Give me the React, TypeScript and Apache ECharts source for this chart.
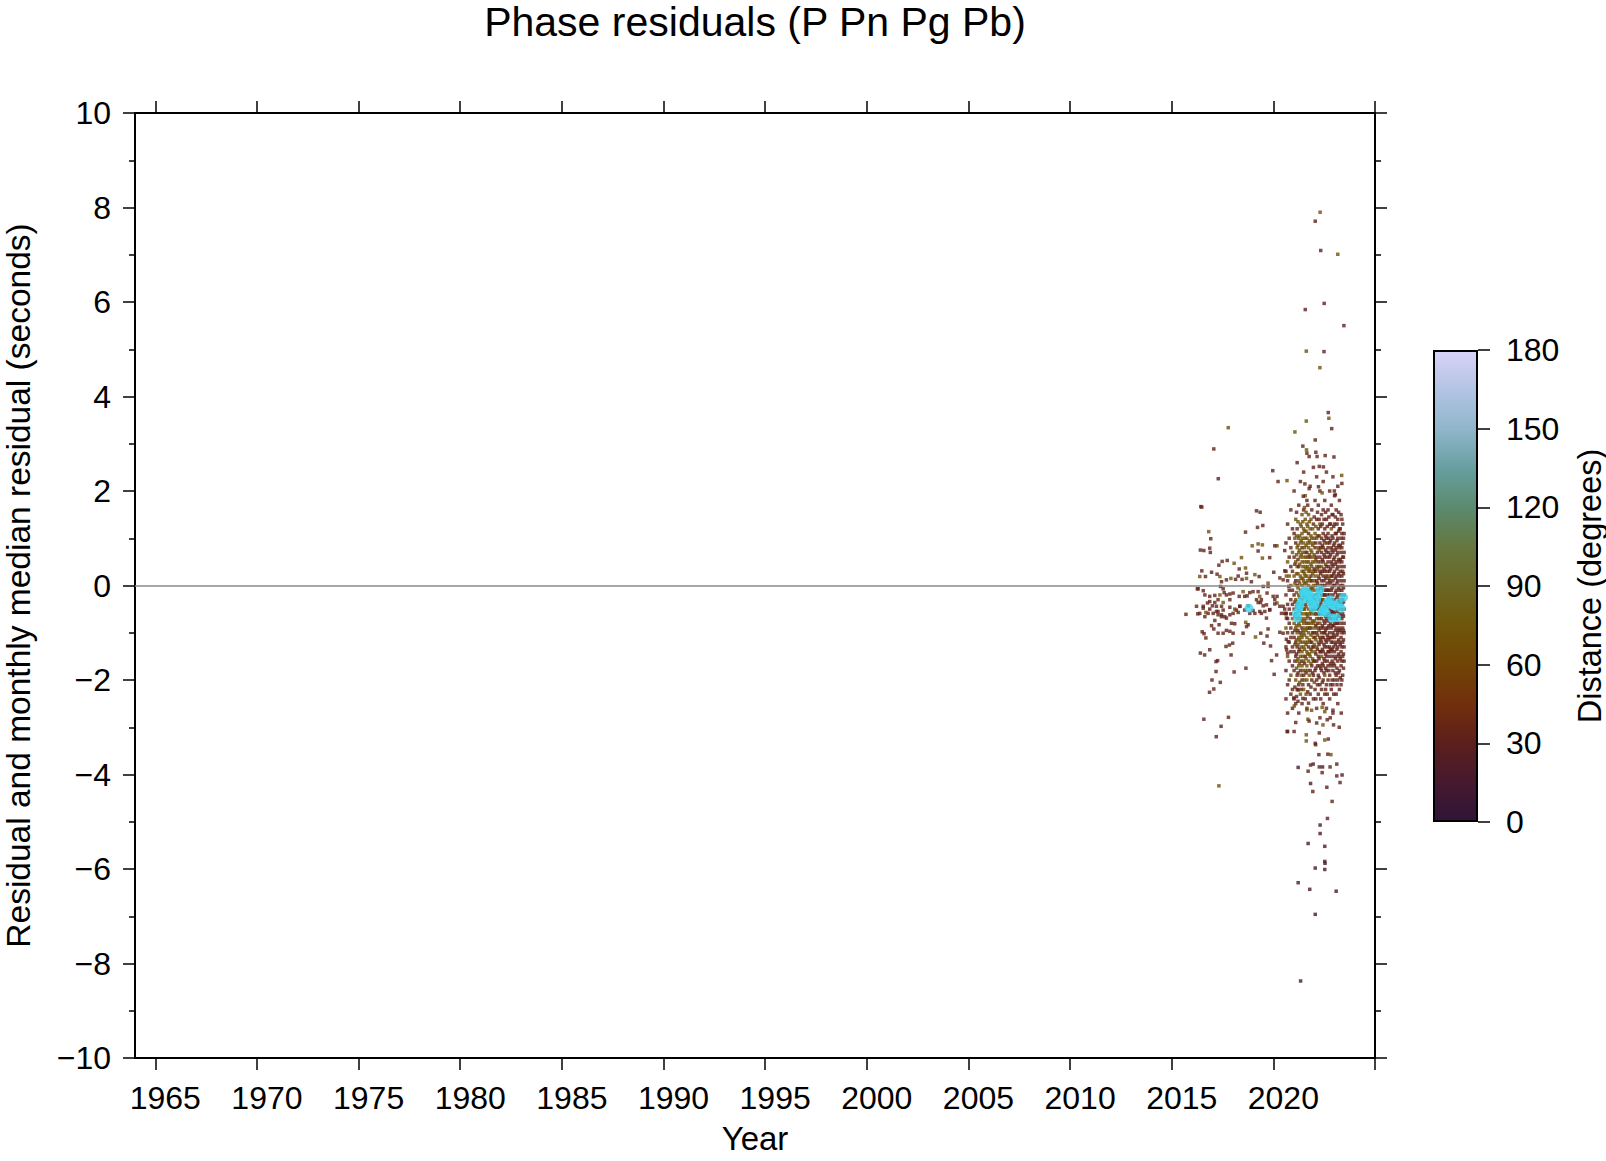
import React, { useEffect, useRef } from 'react';
import * as echarts from 'echarts';

const FONT = '"Liberation Sans", Arial, Helvetica, sans-serif';

const titleText = 'Phase residuals (P Pn Pg Pb)';
const xTickYears = [1965, 1970, 1975, 1980, 1985, 1990, 1995, 2000, 2005, 2010, 2015, 2020, 2025];
const xLabelYears = [1965, 1970, 1975, 1980, 1985, 1990, 1995, 2000, 2005, 2010, 2015, 2020];

// colour scale for distance (0 -> 180 degrees)
const distPalette = [
  '#2f1538', '#46192e', '#5c1f1d', '#722f0c', '#714406', '#6e560a', '#6b6625',
  '#65773f', '#5b8a6e', '#679fa0', '#8fb6c9', '#b2c3e4', '#d9d3f7',
];

// [year, residual (s), distance (deg)] — sparse points 2015.7–2020.8
const earlyPoints: number[][] = [
  [2015.70, -0.61, 34], [2016.26, -0.07, 33], [2016.48, 1.66, 34], [2016.43, 1.67, 33],
  [2019.17, 1.58, 33], [2019.35, 1.55, 34], [2019.48, 1.27, 33], [2019.22, 1.23, 35], [2018.63, 1.13, 33],
  [2016.82, 1.14, 70], [2016.92, 0.99, 33], [2016.41, 0.75, 34], [2016.58, 0.74, 33], [2016.87, 0.79, 35], [2016.90, 0.70, 33],
  [2018.96, 0.84, 70], [2019.25, 0.88, 69], [2019.46, 0.86, 70], [2019.25, 0.73, 33], [2019.46, 0.58, 68],
  [2020.18, 0.84, 70], [2020.07, 0.84, 33], [2019.82, 0.59, 34], [2020.56, 0.74, 33], [2018.43, 0.59, 70],
  [2018.07, 0.47, 70], [2017.73, 0.53, 33], [2017.48, 0.51, 34], [2017.32, 0.43, 33], [2017.23, 0.24, 35],
  [2016.96, 0.28, 33], [2016.48, 0.31, 34], [2016.38, 0.19, 70], [2016.66, 0.19, 33],
  [2018.32, 0.35, 33], [2018.63, 0.37, 70], [2018.68, 0.26, 33], [2018.68, 0.15, 70], [2018.46, 0.13, 34], [2018.27, 0.20, 33],
  [2017.91, 0.15, 70], [2018.14, 0.13, 33], [2017.69, 0.12, 35], [2017.37, 0.19, 70], [2017.45, 0.08, 33], [2017.40, -0.02, 34],
  [2018.92, 0.08, 33], [2019.09, 0.23, 70], [2019.30, 0.19, 33], [2019.50, -0.02, 34], [2019.74, 0.05, 70], [2019.74, -0.02, 33],
  [2020.02, 0.28, 33], [2020.32, 0.16, 34], [2020.56, 0.31, 33], [2020.64, 0.20, 70], [2020.76, -0.02, 33], [2020.48, 0.12, 35],
  [2016.30, -0.07, 33], [2016.55, -0.11, 34], [2016.63, -0.20, 33], [2016.87, -0.23, 35], [2017.12, -0.21, 33], [2017.37, -0.20, 70],
  [2017.53, -0.07, 33], [2017.58, -0.15, 34], [2017.69, -0.20, 33], [2017.86, -0.18, 33], [2018.02, -0.16, 35],
  [2016.87, -0.34, 33], [2016.76, -0.37, 34], [2017.12, -0.36, 33], [2017.53, -0.36, 70], [2017.28, -0.30, 33], [2017.86, -0.30, 34],
  [2017.20, -0.44, 33], [2017.45, -0.44, 35], [2017.53, -0.52, 33], [2017.28, -0.55, 34], [2017.04, -0.59, 33], [2016.79, -0.59, 33],
  [2016.63, -0.66, 34], [2016.38, -0.59, 33], [2016.22, -0.44, 35], [2016.55, -0.44, 33],
  [2018.32, -0.23, 33], [2018.51, -0.13, 70], [2018.59, -0.23, 33], [2018.71, -0.22, 34], [2018.84, -0.15, 33], [2019.00, -0.13, 35],
  [2019.25, -0.13, 33], [2019.33, -0.23, 70], [2019.41, -0.30, 33], [2019.17, -0.30, 34], [2019.37, -0.36, 33], [2019.50, -0.43, 33],
  [2019.66, -0.41, 35], [2019.69, -0.16, 33], [2019.99, -0.23, 34], [2020.07, -0.30, 33], [2020.18, -0.37, 70], [2020.32, -0.44, 33],
  [2020.56, -0.50, 34], [2020.64, -0.59, 33], [2020.40, -0.59, 35], [2020.18, -0.23, 33], [2019.82, -0.52, 33], [2019.58, -0.55, 34],
  [2019.33, -0.55, 33], [2019.09, -0.59, 33], [2018.84, -0.59, 34], [2018.59, -0.52, 33], [2018.35, -0.44, 35], [2018.18, -0.52, 33],
  [2018.02, -0.59, 34], [2017.86, -0.62, 33], [2017.69, -0.69, 33], [2017.45, -0.66, 34],
  [2016.28, -0.60, 33], [2016.55, -0.48, 34], [2016.68, -0.57, 70], [2016.87, -0.50, 33], [2017.00, -0.43, 33], [2017.20, -0.55, 34],
  [2017.45, -0.62, 33], [2017.61, -0.66, 34], [2017.28, -0.62, 33], [2017.12, -0.74, 35], [2017.33, -0.83, 33], [2016.96, -0.85, 34],
  [2017.07, -0.92, 33], [2017.28, -1.01, 33], [2017.53, -1.01, 34], [2017.69, -0.95, 33], [2017.86, -0.97, 35], [2018.02, -1.01, 33],
  [2017.94, -0.80, 34], [2018.10, -0.81, 33], [2018.35, -0.44, 33], [2018.10, -0.50, 70], [2017.86, -0.46, 33], [2018.27, -0.57, 34],
  [2018.76, -0.43, 33], [2019.00, -0.53, 33], [2019.25, -0.36, 34], [2019.41, -0.59, 33], [2019.66, -0.69, 35], [2019.82, -0.51, 33],
  [2020.07, -0.39, 34], [2020.48, -0.44, 33], [2020.56, -0.59, 33], [2020.64, -0.69, 34], [2020.32, -0.99, 33], [2020.48, -1.01, 35],
  [2020.64, -1.14, 33], [2020.73, -1.19, 34], [2016.50, -0.98, 33], [2016.59, -1.02, 33], [2016.68, -1.11, 34],
  [2018.51, -1.01, 33], [2018.64, -0.78, 70], [2018.76, -0.83, 33], [2018.68, -0.87, 34], [2019.38, -1.01, 33], [2019.69, -1.07, 33],
  [2019.74, -0.92, 34], [2019.12, -1.09, 70], [2019.53, -1.22, 33], [2019.86, -1.28, 34], [2020.65, -1.36, 33], [2020.70, -1.43, 33],
  [2016.41, -1.43, 33], [2016.62, -1.47, 34], [2016.87, -1.36, 33], [2017.18, -1.61, 33], [2017.26, -1.59, 34], [2017.92, -1.47, 33],
  [2017.67, -1.29, 33], [2017.84, -1.26, 35], [2018.00, -1.22, 33], [2019.91, -1.59, 34], [2020.16, -1.47, 33],
  [2017.18, -1.82, 33], [2018.07, -1.83, 34], [2018.65, -1.75, 33], [2016.98, -2.00, 33], [2017.39, -2.05, 34], [2016.86, -2.26, 33],
  [2020.04, -1.88, 33], [2017.07, -2.19, 34], [2016.58, -2.83, 33], [2017.79, -2.79, 33], [2017.43, -2.98, 34], [2017.19, -3.20, 33],
  [2017.32, -4.24, 70], [2020.70, -3.09, 33],
];

// isolated high and low residuals around the dense 2021–2023 cloud
const outlierPoints: number[][] = [
  [2022.30, 7.90, 70], [2022.06, 7.71, 33], [2022.33, 7.09, 33], [2023.17, 7.01, 70], [2022.50, 5.97, 33], [2021.57, 5.84, 33],
  [2023.47, 5.50, 33], [2021.62, 4.96, 70], [2022.49, 4.95, 33], [2022.29, 4.61, 70],
  [2022.70, 3.66, 33], [2022.73, 3.54, 70], [2022.87, 3.32, 33], [2021.62, 3.48, 70], [2021.06, 3.25, 70], [2017.78, 3.34, 70],
  [2017.07, 2.89, 33], [2017.29, 2.26, 33], [2022.06, 3.08, 33], [2021.45, 2.95, 33], [2021.63, 2.87, 70], [2021.76, 2.73, 33],
  [2022.09, 2.82, 33], [2022.15, 2.73, 33], [2022.55, 2.75, 33], [2022.98, 2.72, 33], [2022.26, 2.52, 33], [2022.46, 2.51, 33],
  [2019.97, 2.43, 33], [2020.23, 2.20, 33], [2020.67, 2.22, 70], [2023.36, 2.33, 70], [2023.37, 2.16, 33], [2021.55, 2.15, 33],
  [2021.76, 2.05, 33], [2022.22, 2.09, 33], [2022.40, 1.96, 70], [2023.00, 2.00, 33], [2023.05, 1.92, 33], [2021.47, 1.89, 33],
  [2021.22, -3.85, 18], [2021.71, -3.93, 33], [2021.83, -3.80, 33], [2021.96, -3.78, 20], [2022.26, -3.84, 33], [2022.42, -3.84, 20],
  [2022.40, -3.96, 33], [2022.79, -3.84, 33], [2023.12, -3.78, 33], [2023.12, -4.03, 33], [2023.38, -4.01, 20], [2023.28, -4.17, 33],
  [2021.83, -4.19, 20], [2021.94, -4.36, 33], [2022.63, -4.27, 33], [2022.89, -4.57, 33], [2022.66, -4.93, 33],
  [2020.68, -3.09, 33], [2021.02, -3.09, 33], [2021.62, -3.16, 70], [2021.62, -3.29, 70], [2022.26, -3.12, 33], [2022.06, -3.34, 33],
  [2022.08, -3.37, 33], [2022.70, -3.25, 33], [2022.53, -3.27, 70], [2022.24, -3.58, 33], [2022.68, -3.57, 33], [2022.83, -3.58, 70],
  [2021.00, -2.38, 33], [2021.03, -2.55, 70], [2021.45, -2.39, 33], [2021.73, -2.49, 33], [2021.65, -2.63, 70], [2021.88, -2.64, 70],
  [2022.40, -2.58, 70], [2022.53, -2.67, 70], [2022.65, -2.84, 33], [2022.80, -2.80, 33], [2022.93, -2.64, 33], [2023.34, -2.70, 33],
  [2023.24, -3.00, 33], [2022.96, -2.95, 33], [2021.70, -2.83, 70], [2021.76, -2.87, 33], [2022.13, -2.91, 33], [2022.44, -2.95, 70],
  [2021.22, -2.21, 33],
  [2022.30, -5.07, 18], [2022.30, -5.25, 18], [2021.71, -5.46, 18], [2022.53, -5.52, 18], [2022.53, -5.84, 18], [2022.54, -5.88, 18],
  [2022.06, -5.98, 18], [2022.53, -6.01, 18], [2021.22, -6.29, 18], [2021.79, -6.43, 18], [2023.09, -6.47, 18], [2022.06, -6.96, 18],
  [2021.34, -8.37, 18],
];

// dense cloud 2020.6–2023.5, one row per time slice: [year, res1, dist1, res2, dist2, ...]
const denseCloud: number[][] = [
  [2020.62, 0.9, 34, 0.3, 32, -0.2, 35, -0.6, 33, -0.9, 68, -1.3, 34, -1.8, 31, -2.4, 36],
  [2020.70, 1.3, 33, 0.5, 70, 0.1, 35, -0.4, 34, -0.7, 32, -1.0, 36, -1.5, 69, -2.1, 34, -2.7, 30],
  [2020.78, 1.0, 35, 0.6, 33, 0.2, 67, -0.1, 34, -0.5, 36, -0.8, 33, -1.2, 35, -1.6, 32, -2.0, 34],
  [2020.86, 1.6, 34, 0.8, 36, 0.4, 33, 0.0, 70, -0.3, 35, -0.6, 32, -0.9, 34, -1.1, 37, -1.4, 33, -1.9, 68, -2.3, 35],
  [2020.94, 1.2, 33, 0.7, 69, 0.3, 35, -0.1, 34, -0.4, 32, -0.7, 71, -1.0, 36, -1.3, 34, -1.7, 33, -2.2, 35, -2.6, 31],
  [2021.02, 2.0, 34, 1.1, 33, 0.6, 36, 0.2, 68, -0.2, 34, -0.5, 35, -0.8, 70, -1.1, 33, -1.4, 36, -1.8, 34, -2.4, 32],
  [2021.06, 1.0, 69, 0.45, 34, 0.05, 70, -0.35, 33, -0.65, 68, -0.95, 35, -1.25, 70, -1.6, 33, -2.15, 35],
  [2021.10, 1.4, 70, 0.9, 34, 0.5, 69, 0.1, 33, -0.3, 68, -0.6, 35, -0.9, 70, -1.2, 34, -1.5, 33, -2.0, 69, -2.5, 34, -2.9, 32],
  [2021.14, 1.55, 34, 1.05, 69, 0.65, 71, 0.25, 68, -0.15, 70, -0.45, 33, -0.85, 69, -1.15, 67, -1.45, 34, -1.75, 70, -2.35, 33],
  [2021.17, 2.6, 33, 1.2, 34, 0.8, 69, 0.4, 70, 0.0, 33, -0.4, 68, -0.7, 35, -1.0, 70, -1.3, 33, -1.6, 69, -1.9, 34, -2.2, 33],
  [2021.21, 1.35, 70, 0.85, 68, 0.55, 34, 0.25, 70, -0.05, 69, -0.35, 67, -0.65, 70, -0.95, 35, -1.25, 69, -1.55, 70, -1.85, 33, -2.45, 32],
  [2021.25, 1.7, 34, 1.0, 69, 0.7, 70, 0.4, 33, 0.1, 68, -0.2, 70, -0.5, 34, -0.8, 69, -1.1, 68, -1.4, 33, -1.7, 70, -2.1, 34, -2.7, 32],
  [2021.29, 1.05, 69, 0.75, 70, 0.45, 68, 0.05, 70, -0.25, 69, -0.55, 71, -0.85, 68, -1.15, 70, -1.35, 34, -1.65, 69, -2.05, 70],
  [2021.33, 2.2, 33, 1.3, 70, 0.9, 68, 0.6, 69, 0.2, 70, -0.1, 68, -0.4, 69, -0.7, 71, -1.0, 34, -1.2, 69, -1.5, 68, -1.8, 33, -2.3, 70],
  [2021.37, 1.25, 70, 0.95, 68, 0.65, 70, 0.15, 69, -0.15, 71, -0.45, 68, -0.75, 70, -1.05, 69, -1.3, 70, -1.6, 35, -1.9, 69, -2.2, 34],
  [2021.41, 1.5, 69, 1.1, 70, 0.8, 34, 0.5, 68, 0.3, 70, 0.0, 69, -0.3, 71, -0.6, 68, -0.9, 33, -1.1, 70, -1.4, 69, -1.7, 68, -2.0, 34, -2.5, 33],
  [2021.45, 1.35, 69, 1.0, 70, 0.7, 68, 0.4, 70, 0.15, 69, -0.1, 71, -0.4, 70, -0.7, 69, -0.95, 68, -1.2, 70, -1.5, 69, -1.8, 70, -2.1, 35],
  [2021.49, 2.4, 34, 1.6, 33, 1.2, 69, 0.9, 70, 0.6, 68, 0.3, 69, 0.1, 71, -0.2, 70, -0.5, 68, -0.8, 69, -1.0, 70, -1.3, 68, -1.6, 69, -1.9, 34, -2.2, 70],
  [2021.53, 1.65, 70, 1.15, 69, 0.8, 71, 0.5, 68, 0.25, 70, 0.05, 69, -0.25, 70, -0.5, 68, -0.75, 69, -1.05, 70, -1.35, 69, -1.65, 34, -2.0, 70],
  [2021.57, 1.9, 69, 1.4, 70, 1.0, 68, 0.7, 69, 0.4, 71, 0.2, 70, -0.1, 68, -0.4, 34, -0.6, 69, -0.9, 70, -1.2, 68, -1.5, 33, -1.8, 70, -2.4, 34],
  [2021.61, 1.55, 69, 1.15, 70, 0.85, 68, 0.6, 69, 0.35, 70, 0.05, 71, -0.2, 69, -0.45, 70, -0.7, 68, -0.95, 70, -1.25, 69, -1.55, 70, -1.85, 33, -2.3, 69],
  [2021.65, 2.8, 34, 1.8, 33, 1.3, 69, 1.0, 70, 0.7, 34, 0.5, 68, 0.2, 69, -0.1, 71, -0.3, 70, -0.6, 68, -0.8, 33, -1.1, 69, -1.4, 70, -1.7, 68, -2.0, 69, -2.6, 34],
  [2021.69, 1.7, 34, 1.25, 70, 0.9, 69, 0.6, 68, 0.4, 70, 0.1, 69, -0.1, 68, -0.35, 70, -0.65, 69, -0.9, 70, -1.2, 68, -1.45, 69, -1.8, 70, -2.25, 34],
  [2021.73, 1.5, 69, 1.1, 34, 0.8, 70, 0.5, 68, 0.3, 69, 0.0, 70, -0.2, 68, -0.5, 69, -0.8, 70, -1.0, 68, -1.3, 33, -1.6, 69, -2.1, 34],
  [2021.77, 1.35, 69, 0.95, 70, 0.65, 68, 0.35, 69, 0.15, 70, -0.1, 68, -0.35, 69, -0.6, 70, -0.9, 33, -1.15, 69, -1.45, 70, -1.9, 69],
  [2021.81, 2.1, 34, 1.2, 69, 0.9, 70, 0.6, 33, 0.3, 68, 0.1, 69, -0.2, 70, -0.4, 68, -0.7, 34, -0.9, 69, -1.2, 70, -1.5, 68, -1.8, 33, -2.3, 34],
  [2021.85, 1.4, 70, 1.05, 68, 0.75, 69, 0.45, 70, 0.2, 34, -0.05, 69, -0.3, 70, -0.55, 68, -0.8, 69, -1.05, 70, -1.35, 33, -1.65, 69, -2.15, 34],
  [2021.89, 1.6, 33, 1.0, 69, 0.7, 70, 0.4, 68, 0.1, 34, -0.1, 69, -0.4, 70, -0.6, 68, -0.9, 69, -1.2, 34, -1.4, 70, -1.7, 33, -2.0, 34],
  [2021.93, 1.2, 69, 0.85, 70, 0.5, 68, 0.25, 70, -0.05, 69, -0.25, 34, -0.5, 70, -0.75, 68, -1.0, 34, -1.3, 69, -1.55, 70, -1.85, 33],
  [2021.97, 2.5, 34, 1.3, 33, 0.9, 69, 0.6, 70, 0.3, 68, 0.0, 69, -0.3, 34, -0.5, 70, -0.8, 68, -1.1, 69, -1.3, 33, -1.6, 70, -1.9, 34, -2.4, 33],
  [2022.01, 1.45, 34, 1.0, 69, 0.65, 70, 0.35, 33, 0.1, 68, -0.2, 70, -0.45, 34, -0.75, 69, -1.0, 33, -1.25, 70, -1.6, 34, -2.05, 69],
  [2022.05, 1.8, 33, 1.1, 69, 0.8, 34, 0.5, 70, 0.2, 68, -0.1, 69, -0.3, 70, -0.6, 33, -0.9, 68, -1.1, 34, -1.4, 69, -1.8, 33, -2.2, 34],
  [2022.09, 1.25, 69, 0.9, 34, 0.55, 68, 0.3, 33, 0.0, 70, -0.35, 34, -0.6, 69, -0.85, 33, -1.15, 70, -1.45, 33, -1.75, 34, -2.4, 33],
  [2022.13, 2.3, 34, 1.4, 33, 1.0, 69, 0.6, 34, 0.4, 68, 0.1, 33, -0.2, 70, -0.5, 34, -0.7, 69, -1.0, 33, -1.3, 68, -1.6, 34, -2.0, 33, -2.6, 35],
  [2022.17, 1.55, 34, 1.05, 69, 0.7, 33, 0.35, 70, 0.05, 34, -0.25, 68, -0.5, 33, -0.8, 34, -1.05, 69, -1.35, 34, -1.7, 33, -2.1, 35],
  [2022.21, 1.7, 33, 1.2, 34, 0.8, 69, 0.5, 33, 0.2, 68, -0.1, 34, -0.4, 69, -0.6, 33, -0.9, 34, -1.2, 68, -1.5, 33, -1.9, 34, -2.3, 33],
  [2022.25, 1.4, 33, 1.05, 34, 0.75, 70, 0.4, 33, 0.15, 34, -0.15, 69, -0.45, 34, -0.7, 33, -0.95, 68, -1.25, 34, -1.55, 33, -1.95, 34],
  [2022.29, 2.0, 34, 1.3, 69, 0.9, 33, 0.6, 34, 0.3, 33, 0.0, 68, -0.3, 34, -0.5, 33, -0.8, 69, -1.1, 34, -1.4, 33, -1.7, 34, -2.1, 33, -2.8, 35],
  [2022.33, 1.25, 34, 0.8, 33, 0.5, 69, 0.25, 34, -0.05, 33, -0.35, 34, -0.6, 68, -0.9, 33, -1.15, 34, -1.4, 33, -1.75, 34, -2.4, 32],
  [2022.37, 1.5, 33, 1.0, 34, 0.7, 33, 0.4, 68, 0.1, 34, -0.2, 33, -0.4, 35, -0.7, 34, -1.0, 33, -1.2, 34, -1.5, 69, -1.8, 33, -2.2, 34],
  [2022.41, 1.3, 33, 0.85, 34, 0.55, 32, 0.3, 35, 0.0, 34, -0.3, 33, -0.55, 36, -0.85, 34, -1.1, 68, -1.35, 33, -1.65, 34, -2.05, 35],
  [2022.45, 2.2, 34, 1.6, 33, 1.1, 35, 0.8, 34, 0.5, 33, 0.2, 34, -0.1, 33, -0.3, 69, -0.6, 34, -0.9, 33, -1.1, 35, -1.4, 34, -1.7, 33, -2.0, 34, -2.5, 33],
  [2022.49, 1.4, 34, 0.95, 33, 0.65, 35, 0.35, 34, 0.1, 32, -0.2, 34, -0.45, 33, -0.75, 35, -1.0, 34, -1.25, 33, -1.55, 36, -1.85, 34],
  [2022.53, 1.8, 33, 1.2, 34, 0.9, 69, 0.6, 33, 0.3, 34, 0.0, 35, -0.2, 33, -0.5, 34, -0.8, 33, -1.0, 35, -1.3, 34, -1.6, 33, -1.9, 69, -2.3, 34],
  [2022.57, 1.55, 33, 1.05, 35, 0.75, 34, 0.45, 68, 0.15, 33, -0.1, 34, -0.35, 32, -0.65, 34, -0.95, 35, -1.15, 33, -1.45, 34, -1.75, 33, -2.2, 34],
  [2022.61, 2.4, 34, 1.4, 33, 1.0, 35, 0.7, 34, 0.4, 33, 0.2, 34, -0.1, 36, -0.4, 33, -0.7, 34, -0.9, 33, -1.2, 35, -1.5, 34, -1.8, 33, -2.1, 34, -2.6, 33],
  [2022.65, 1.25, 34, 0.9, 33, 0.6, 35, 0.3, 34, 0.05, 33, -0.2, 36, -0.45, 34, -0.75, 33, -1.05, 34, -1.3, 32, -1.6, 34, -2.3, 35],
  [2022.69, 1.6, 33, 1.1, 34, 0.8, 33, 0.5, 35, 0.2, 69, -0.1, 34, -0.3, 33, -0.6, 34, -0.9, 35, -1.1, 33, -1.4, 34, -1.7, 33, -2.0, 34],
  [2022.73, 1.45, 35, 1.0, 34, 0.7, 33, 0.4, 34, 0.15, 68, -0.1, 33, -0.4, 34, -0.65, 35, -0.85, 34, -1.15, 33, -1.4, 34, -1.8, 33],
  [2022.77, 2.0, 34, 1.3, 33, 0.9, 35, 0.6, 34, 0.3, 33, 0.1, 34, -0.2, 33, -0.5, 35, -0.7, 34, -1.0, 33, -1.3, 34, -1.5, 33, -1.9, 35, -2.4, 34],
  [2022.81, 1.3, 34, 0.95, 35, 0.65, 33, 0.35, 34, 0.05, 33, -0.3, 34, -0.55, 36, -0.8, 34, -1.1, 33, -1.35, 35, -1.65, 34, -2.1, 33],
  [2022.85, 1.7, 33, 1.2, 69, 0.8, 34, 0.5, 33, 0.2, 35, -0.1, 34, -0.4, 33, -0.6, 34, -0.9, 33, -1.2, 35, -1.4, 34, -1.7, 33, -2.2, 34],
  [2022.89, 1.5, 33, 1.05, 34, 0.75, 35, 0.45, 33, 0.2, 34, -0.05, 33, -0.3, 35, -0.55, 34, -0.85, 33, -1.1, 34, -1.35, 33, -1.6, 35, -2.0, 34],
  [2022.93, 2.3, 34, 1.5, 33, 1.0, 35, 0.7, 34, 0.4, 33, 0.1, 34, -0.2, 33, -0.4, 35, -0.7, 34, -1.0, 33, -1.2, 34, -1.5, 33, -1.8, 35, -2.1, 34, -2.7, 33],
  [2022.97, 1.25, 34, 0.85, 33, 0.55, 34, 0.25, 35, 0.0, 33, -0.3, 34, -0.55, 32, -0.85, 34, -1.05, 35, -1.3, 33, -1.65, 34, -2.3, 33],
  [2023.01, 1.9, 33, 1.3, 34, 0.9, 33, 0.6, 35, 0.3, 34, 0.0, 33, -0.3, 34, -0.6, 35, -0.8, 33, -1.1, 34, -1.4, 33, -1.7, 35, -2.0, 34],
  [2023.05, 1.45, 35, 1.1, 34, 0.75, 33, 0.45, 34, 0.15, 35, -0.15, 33, -0.45, 34, -0.7, 33, -0.95, 36, -1.25, 34, -1.55, 33, -1.85, 34],
  [2023.09, 1.6, 34, 1.1, 33, 0.8, 35, 0.5, 34, 0.2, 33, -0.1, 34, -0.4, 35, -0.7, 33, -0.9, 34, -1.2, 33, -1.5, 35, -1.9, 34, -2.3, 33],
  [2023.13, 1.3, 33, 0.95, 34, 0.65, 35, 0.35, 33, 0.05, 34, -0.25, 33, -0.55, 35, -0.8, 34, -1.05, 33, -1.35, 34, -1.75, 33, -2.1, 35],
  [2023.17, 2.1, 33, 1.4, 34, 1.0, 33, 0.7, 35, 0.4, 34, 0.1, 33, -0.2, 34, -0.5, 35, -0.8, 33, -1.0, 34, -1.3, 33, -1.6, 35, -2.0, 34, -2.5, 33],
  [2023.21, 1.55, 34, 1.15, 33, 0.85, 34, 0.55, 35, 0.25, 33, -0.05, 34, -0.35, 33, -0.65, 34, -0.95, 35, -1.15, 33, -1.45, 34, -1.85, 33],
  [2023.25, 1.8, 34, 1.2, 33, 0.8, 35, 0.5, 34, 0.2, 33, -0.1, 34, -0.3, 35, -0.6, 33, -0.9, 34, -1.2, 33, -1.5, 35, -1.8, 34, -2.2, 33],
  [2023.29, 1.2, 35, 0.85, 34, 0.55, 33, 0.3, 34, 0.0, 35, -0.35, 34, -0.65, 33, -0.95, 34, -1.25, 33, -1.55, 35, -1.95, 34],
  [2023.33, 1.5, 33, 1.0, 34, 0.7, 35, 0.4, 33, 0.1, 34, -0.2, 33, -0.5, 35, -0.8, 34, -1.1, 33, -1.4, 34, -1.7, 33, -2.1, 35],
  [2023.37, 1.4, 34, 1.1, 33, 0.8, 35, 0.5, 34, 0.2, 33, -0.1, 34, -0.4, 35, -0.7, 33, -1.0, 34, -1.3, 33, -1.6, 34, -2.0, 33],
  [2023.41, 1.3, 33, 0.9, 34, 0.6, 35, 0.3, 33, 0.0, 34, -0.3, 33, -0.6, 35, -0.9, 34, -1.2, 33, -1.5, 34, -1.9, 33],
  [2023.45, 1.0, 33, 0.6, 34, 0.25, 35, -0.05, 33, -0.35, 34, -0.65, 33, -0.95, 35, -1.15, 34, -1.45, 33, -1.75, 34],
  [2023.48, 1.1, 34, 0.7, 33, 0.4, 35, 0.1, 34, -0.2, 33, -0.5, 34, -0.8, 35, -1.0, 33, -1.3, 34, -1.6, 33],
];

// monthly median residuals [year, residual]
const monthlyMedian: number[][] = [
  [2018.80, -0.48],
  [2021.14, -0.58], [2021.19, -0.69], [2021.26, -0.48], [2021.30, -0.40], [2021.39, -0.32], [2021.47, -0.16],
  [2021.55, -0.12], [2021.63, -0.13], [2021.72, -0.22], [2021.80, -0.20], [2021.75, -0.30], [2021.88, -0.37],
  [2021.96, -0.48], [2022.05, -0.41], [2022.13, -0.30], [2022.21, -0.20], [2022.29, -0.09], [2022.38, -0.56],
  [2022.46, -0.51], [2022.55, -0.44], [2022.60, -0.58], [2022.68, -0.34], [2022.79, -0.30], [2022.88, -0.41],
  [2022.88, -0.69], [2023.04, -0.44], [2023.12, -0.68], [2023.20, -0.37], [2023.33, -0.48], [2023.45, -0.25],
];

function buildResiduals(): number[][] {
  const out: number[][] = [];
  earlyPoints.forEach((p) => out.push(p));
  denseCloud.forEach((row) => {
    for (let i = 1; i + 1 < row.length; i += 2) out.push([row[0], row[i], row[i + 1]]);
  });
  outlierPoints.forEach((p) => out.push(p));
  return out;
}

const minusFmt = (v: number) => (v < 0 ? '\u2212' + Math.abs(v) : String(v));

export default function App() {
  const ref = useRef<HTMLDivElement>(null);
  useEffect(() => {
    if (!ref.current) return;
    const chart = echarts.init(ref.current, null, { renderer: 'svg' });
    const black = '#000';
    const axisLineStyle = { color: black, width: 2 };
    const tickLineStyle = { color: black, width: 1.5 };
    const labelStyle = { fontSize: 32, color: black, fontFamily: FONT };
    const gradient = {
      type: 'linear', x: 0, y: 1, x2: 0, y2: 0,
      colorStops: distPalette.map((c, i) => ({ offset: i / (distPalette.length - 1), color: c })),
    };
    const option: any = {
      animation: false,
      backgroundColor: '#fff',
      textStyle: { fontFamily: FONT },
      graphic: [
        {
          type: 'text', x: 755, y: 22,
          style: {
            text: titleText, fontSize: 41, fill: black, fontFamily: FONT,
            textAlign: 'center', textVerticalAlign: 'middle',
          },
        },
      ],
      grid: [
        { left: 135, top: 113, width: 1240, height: 945, outerBoundsMode: 'none', containLabel: false },
        { left: 1433, top: 350, width: 45, height: 472, outerBoundsMode: 'none', containLabel: false },
      ],
      visualMap: {
        type: 'continuous', show: false, min: 0, max: 180, dimension: 2, seriesIndex: 0,
        inRange: { color: distPalette },
      },
      xAxis: [
        {
          gridIndex: 0, type: 'value', min: 1964, max: 2025, position: 'bottom',
          axisLine: { show: true, onZero: false, lineStyle: axisLineStyle },
          axisTick: { show: true, inside: false, length: 12, customValues: xTickYears, lineStyle: tickLineStyle },
          axisLabel: {
            show: true, customValues: xLabelYears, margin: 24, padding: [0, 0, 0, 20],
            formatter: (v: number) => String(v), ...labelStyle,
          },
          splitLine: { show: false },
          name: 'Year', nameLocation: 'middle', nameGap: 64,
          nameTextStyle: { ...labelStyle, fontSize: 33 },
        },
        {
          gridIndex: 0, type: 'value', min: 1964, max: 2025, position: 'top',
          axisLine: { show: true, onZero: false, lineStyle: axisLineStyle },
          axisTick: { show: true, inside: false, length: 12, customValues: xTickYears, lineStyle: tickLineStyle },
          axisLabel: { show: false },
          splitLine: { show: false },
        },
        { gridIndex: 1, type: 'category', data: ['dist'], show: false },
      ],
      yAxis: [
        {
          gridIndex: 0, type: 'value', min: -10, max: 10, interval: 2, position: 'left',
          axisLine: { show: true, onZero: false, lineStyle: axisLineStyle },
          axisTick: { show: true, inside: false, length: 12, lineStyle: tickLineStyle },
          minorTick: { show: true, splitNumber: 2, length: 6, lineStyle: tickLineStyle },
          axisLabel: { margin: 24, formatter: minusFmt, ...labelStyle },
          splitLine: { show: false }, minorSplitLine: { show: false },
          name: 'Residual and monthly median residual (seconds)', nameLocation: 'middle', nameGap: 100,
          nameRotate: 90, nameTextStyle: { ...labelStyle, fontSize: 33.5 },
        },
        {
          gridIndex: 0, type: 'value', min: -10, max: 10, interval: 2, position: 'right',
          axisLine: { show: true, onZero: false, lineStyle: axisLineStyle },
          axisTick: { show: true, inside: false, length: 12, lineStyle: tickLineStyle },
          minorTick: { show: true, splitNumber: 2, length: 6, lineStyle: tickLineStyle },
          axisLabel: { show: false },
          splitLine: { show: false }, minorSplitLine: { show: false },
        },
        {
          gridIndex: 1, type: 'value', min: 0, max: 180, interval: 30, position: 'right',
          axisLine: { show: false },
          axisTick: { show: true, inside: false, length: 12, lineStyle: tickLineStyle },
          axisLabel: { margin: 28, ...labelStyle },
          splitLine: { show: false },
          name: 'Distance (degrees)', nameLocation: 'middle', nameGap: 95, nameRotate: 90,
          nameTextStyle: { ...labelStyle, fontSize: 32.5 },
        },
      ],
      series: [
        {
          name: 'Residual', type: 'scatter', xAxisIndex: 0, yAxisIndex: 0,
          data: buildResiduals(), symbol: 'rect', symbolSize: 3.5, z: 2, silent: true,
          markLine: {
            silent: true, symbol: ['none', 'none'], label: { show: false },
            lineStyle: { color: '#8a8a8a', width: 1.5, type: 'solid' },
            data: [{ yAxis: 0 }],
          },
        },
        {
          name: 'Monthly median', type: 'scatter', xAxisIndex: 0, yAxisIndex: 0,
          data: monthlyMedian, symbol: 'circle', symbolSize: 9, z: 6, silent: true,
          itemStyle: { color: '#3ed6f0' },
        },
        {
          name: 'Colour bar', type: 'bar', xAxisIndex: 2, yAxisIndex: 2, data: [180],
          barWidth: '100%', silent: true,
          itemStyle: { color: gradient, borderColor: black, borderWidth: 2 },
        },
      ],
    };
    chart.setOption(option);
    return () => chart.dispose();
  }, []);
  return (
    <div
      ref={ref}
      style={{ position: 'fixed', left: 0, top: 0, width: 1606, height: 1161, background: '#fff' }}
    />
  );
}
